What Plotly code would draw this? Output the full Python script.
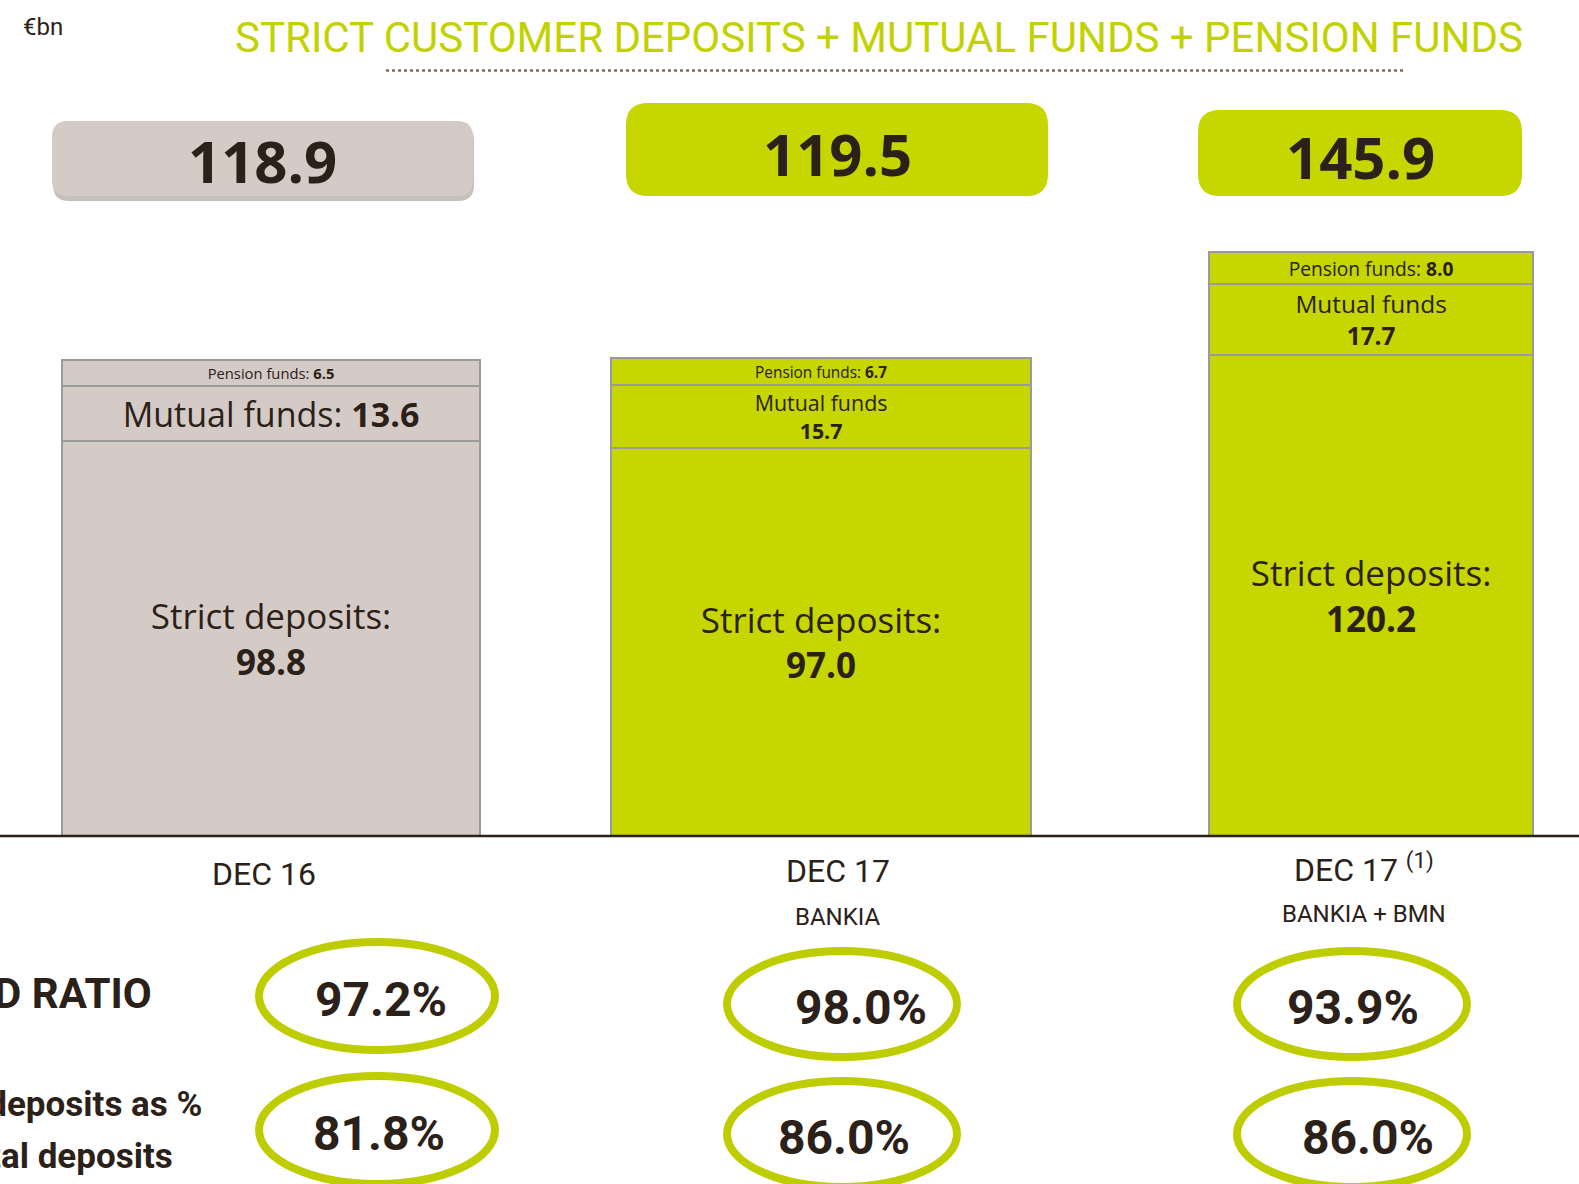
import plotly.graph_objects as go

# ---------------- data ----------------
categories = ["DEC 16", "DEC 17", "DEC 17 (1)"]
sub_labels = ["", "BANKIA", "BANKIA + BMN"]
strict_deposits = [98.8, 97.0, 120.2]
mutual_funds = [13.6, 15.7, 17.7]
pension_funds = [6.5, 6.7, 8.0]
totals = [118.9, 119.5, 145.9]
ltd_ratio = [97.2, 98.0, 93.9]
strict_pct_total = [81.8, 86.0, 86.0]

# ---------------- style ----------------
W, H = 1579, 1184
GRAY = "#D5CBC6"
GREEN = "#C5D600"
RING = "#BECD00"
DARK = "#2B2118"
EDGE = "#9A9A9A"
bar_colors = [GRAY, GREEN, GREEN]
bar_widths = [0.76, 0.765, 0.59]
SEG_FONT = "Open Sans, Noto Sans, sans-serif"
NARROW = "Roboto, Liberation Sans, sans-serif"


def X(px):
    return px / W


def Y(py):
    return 1 - py / H


def rrect(x0, y0, x1, y1, r):
    pts = [
        f"M {X(x0 + r)},{Y(y0)}", f"L {X(x1 - r)},{Y(y0)}",
        f"Q {X(x1)},{Y(y0)} {X(x1)},{Y(y0 + r)}", f"L {X(x1)},{Y(y1 - r)}",
        f"Q {X(x1)},{Y(y1)} {X(x1 - r)},{Y(y1)}", f"L {X(x0 + r)},{Y(y1)}",
        f"Q {X(x0)},{Y(y1)} {X(x0)},{Y(y1 - r)}", f"L {X(x0)},{Y(y0 + r)}",
        f"Q {X(x0)},{Y(y0)} {X(x0 + r)},{Y(y0)}", "Z",
    ]
    return " ".join(pts)


fig = go.Figure()

strict_text = [f"Strict deposits:<br><b>{v:.1f}</b>" for v in strict_deposits]
mutual_text = [
    (f"Mutual funds: <b>{v:.1f}</b>" if i == 0 else f"Mutual funds<br><b>{v:.1f}</b>")
    for i, v in enumerate(mutual_funds)
]
pension_text = [f"Pension funds: <b>{v:.1f}</b>" for v in pension_funds]

for vals, txt, fsize, name in [
    (strict_deposits, strict_text, 35, "Strict deposits"),
    (mutual_funds, mutual_text, 34, "Mutual funds"),
    (pension_funds, pension_text, 34, "Pension funds"),
]:
    fig.add_trace(go.Bar(
        x=categories, y=vals, name=name,
        width=bar_widths,
        marker=dict(color=bar_colors, line=dict(color=EDGE, width=2)),
        text=txt, textposition="inside", insidetextanchor="middle",
        textfont=dict(family=SEG_FONT, size=fsize, color=DARK),
        hoverinfo="skip",
    ))

shapes = []
annotations = []

# baseline
shapes.append(dict(type="line", xref="paper", yref="y", x0=0, x1=1, y0=0, y1=0,
                   line=dict(color=DARK, width=2.5), layer="above"))

# title and dotted rule
annotations.append(dict(text="STRICT CUSTOMER DEPOSITS + MUTUAL FUNDS + PENSION FUNDS",
                        xref="paper", yref="paper", x=X(879), y=Y(37), showarrow=False,
                        xanchor="center", yanchor="middle",
                        font=dict(family=NARROW, size=42, color="#C2D200")))
shapes.append(dict(type="line", xref="paper", yref="paper", x0=X(386), x1=X(1405),
                   y0=Y(70.5), y1=Y(70.5), line=dict(color="#7B6B5F", width=2.5, dash="dot")))
annotations.append(dict(text="€bn", xref="paper", yref="paper", x=X(21), y=Y(27),
                        showarrow=False, xanchor="left", yanchor="middle",
                        font=dict(family=NARROW, size=24, color=DARK)))

# total boxes
boxes = [(52, 121, 473, 196, 16), (626, 103, 1048, 196, 22), (1198, 110, 1522, 196, 22)]
text_y = [161, 153, 156]
for i, (x0, y0, x1, y1, r) in enumerate(boxes):
    if i == 0:
        shapes.append(dict(type="path", xref="paper", yref="paper",
                           path=rrect(x0 + 1, y0 + 4, x1 + 1, y1 + 5, r),
                           fillcolor="rgba(90,75,65,0.35)", line=dict(width=0), layer="below"))
    shapes.append(dict(type="path", xref="paper", yref="paper", path=rrect(x0, y0, x1, y1, r),
                       fillcolor=bar_colors[i], line=dict(width=0), layer="below"))
    annotations.append(dict(text=f"<b>{totals[i]:.1f}</b>", xref="paper", yref="paper",
                            x=X((x0 + x1) / 2), y=Y(text_y[i]), showarrow=False,
                            xanchor="center", yanchor="middle",
                            font=dict(family=SEG_FONT, size=58, color=DARK)))

# category labels
cat_pos = [(264, 874), (838, 871), (1364, 868)]
for i, (cx, cy) in enumerate(cat_pos):
    lab = categories[i].replace(" (1)", " <sup>(1)</sup>")
    annotations.append(dict(text=lab, xref="paper", yref="paper", x=X(cx), y=Y(cy),
                            showarrow=False, xanchor="center", yanchor="middle",
                            font=dict(family=NARROW, size=32, color=DARK)))
    if sub_labels[i]:
        annotations.append(dict(text=sub_labels[i], xref="paper", yref="paper", x=X(cx),
                                y=Y(cy + 46), showarrow=False, xanchor="center",
                                yanchor="middle",
                                font=dict(family=NARROW, size=24, color=DARK)))

# row labels (cropped at the left edge, as in the slide)
annotations.append(dict(text="<b>LTD RATIO</b>", xref="paper", yref="paper", x=X(154), y=Y(994),
                        showarrow=False, xanchor="right", yanchor="middle",
                        font=dict(family=NARROW, size=42, color=DARK)))
annotations.append(dict(text="<b>Strict deposits as %</b>", xref="paper", yref="paper",
                        x=X(204), y=Y(1104), showarrow=False, xanchor="right",
                        yanchor="middle", font=dict(family=NARROW, size=35, color=DARK)))
annotations.append(dict(text="<b>of total deposits</b>", xref="paper", yref="paper",
                        x=X(175), y=Y(1156), showarrow=False, xanchor="right",
                        yanchor="middle", font=dict(family=NARROW, size=35, color=DARK)))

# ellipses with ratios
ell_x = [377, 842, 1352]
row_y = [[996, 1004, 1004], [1130, 1134, 1134]]
rx, ry = [118, 115, 115], [54, 53, 53]
txt_x = [[381, 861, 1353], [379, 844, 1368]]
for r, vals in enumerate([ltd_ratio, strict_pct_total]):
    for i, v in enumerate(vals):
        cy0 = row_y[r][i]
        shapes.append(dict(type="circle", xref="paper", yref="paper",
                           x0=X(ell_x[i] - rx[i]), x1=X(ell_x[i] + rx[i]),
                           y0=Y(cy0 - ry[i]), y1=Y(cy0 + ry[i]),
                           line=dict(color=RING, width=8), layer="above"))
        annotations.append(dict(text=f"<b>{v:.1f}%</b>", xref="paper", yref="paper",
                                x=X(txt_x[r][i]), y=Y(cy0 + 3), showarrow=False,
                                xanchor="center", yanchor="middle",
                                font=dict(family=NARROW, size=48, color=DARK)))

fig.update_layout(
    width=W, height=H,
    margin=dict(l=0, r=0, t=0, b=0),
    paper_bgcolor="white", plot_bgcolor="white",
    barmode="stack", showlegend=False,
    xaxis=dict(visible=False, range=[-0.4927, 2.378], type="category"),
    yaxis=dict(visible=False, range=[-87, 209]),
    shapes=shapes, annotations=annotations,
)

fig.write_html(
    "out.html",
    config={"displayModeBar": False},
    post_script="document.body.style.margin='0';document.body.style.padding='0';"
                "document.body.style.overflow='hidden';",
)
